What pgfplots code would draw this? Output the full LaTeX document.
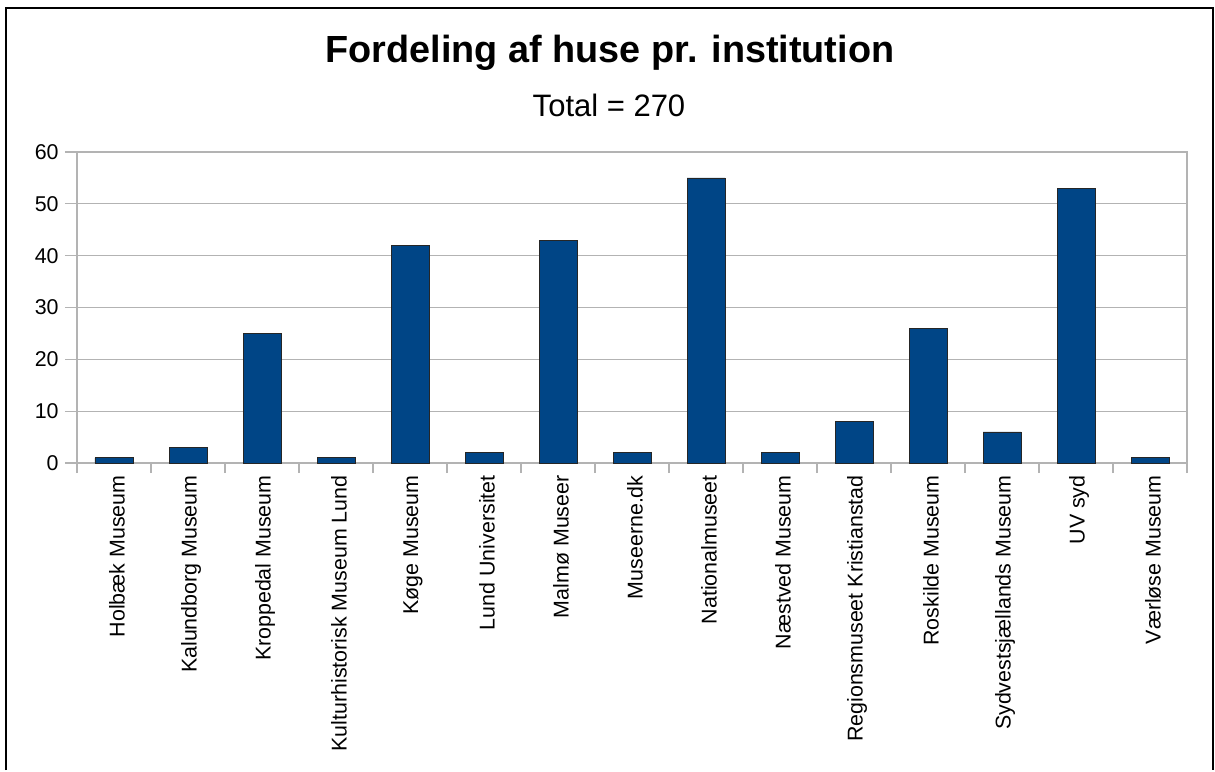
\documentclass[border=0pt]{standalone}
\usepackage{pgfplots}
\pgfplotsset{compat=1.18}
\usepackage{fontspec}
\setmainfont{Liberation Sans}
\definecolor{barblue}{HTML}{004586}
\definecolor{gridgray}{HTML}{B3B3B3}
\begin{document}
\begin{tikzpicture}
\path (-38.5pt,-153pt) rectangle (569pt,231.5pt);
\draw[line width=1pt] (-35.5pt,-153.5pt) -- (-35.5pt,227.5pt) -- (568pt,227.5pt) -- (568pt,-153.5pt);
\node[anchor=base, font=\bfseries\fontsize{18.9}{22}\selectfont] at (266.5pt,200pt) {Fordeling af huse pr. institution};
\node[anchor=base, font=\fontsize{15.5}{18}\selectfont] at (266pt,173pt) {Total = 270};
\begin{axis}[
  at={(0,0)}, anchor=south west,
  scale only axis,
  width=555pt, height=155.5pt,
  xmin=-0.5, xmax=14.5,
  ymin=0, ymax=60,
  ytick={0,10,...,60},
  xtick={0,1,...,14},
  xticklabels={Holbæk Museum,Kalundborg Museum,Kroppedal Museum,Kulturhistorisk Museum Lund,Køge Museum,Lund Universitet,Malmø Museer,Museerne.dk,Nationalmuseet,Næstved Museum,Regionsmuseet Kristianstad,Roskilde Museum,Sydvestsjællands Museum,UV syd,Værløse Museum},
  minor xtick={-0.5,0.5,...,14.5},
  major x tick style={draw=none},
  minor x tick style={gridgray, line width=0.6pt},
  minor tick length=5pt,
  y tick style={gridgray, line width=0.6pt},
  major tick length=6pt,
  xtick pos=bottom, ytick pos=left,
  tick align=outside,
  ymajorgrids,
  grid style={gridgray, line width=0.6pt},
  axis line style={gridgray, line width=0.6pt},
  /pgf/number format/assume math mode=true,
  tick label style={font=\fontsize{10.7}{13}\selectfont},
  xticklabel style={rotate=90, anchor=east, inner sep=0pt, yshift=-1.5pt},
  yticklabel style={anchor=east, inner sep=0pt, xshift=-3pt},
  ybar, bar width=19pt,
]
\addplot[fill=barblue, draw=black!85, line width=0.4pt] coordinates {
(0,1) (1,3) (2,25) (3,1) (4,42) (5,2) (6,43) (7,2) (8,55) (9,2) (10,8) (11,26) (12,6) (13,53) (14,1)
};
\end{axis}
\end{tikzpicture}
\end{document}
